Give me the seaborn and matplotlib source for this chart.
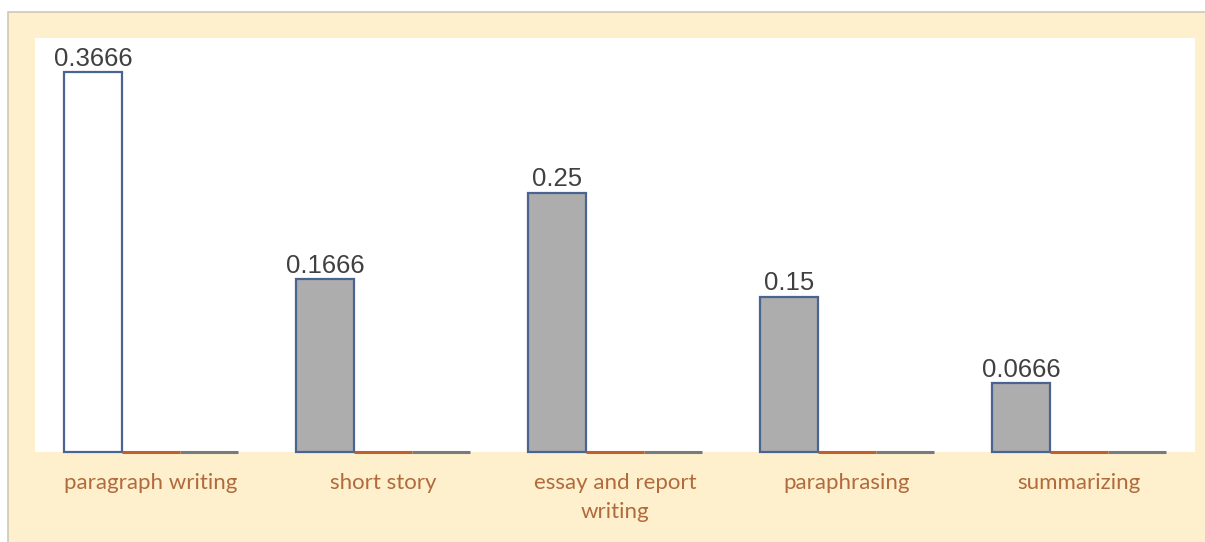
import matplotlib
matplotlib.use("Agg")
import matplotlib.pyplot as plt
from matplotlib.patches import Rectangle
import pandas as pd
import seaborn as sns

# Data
CATEGORIES = ['paragraph writing', 'short story', 'essay and report\nwriting',
              'paraphrasing', 'summarizing']
SERIES_1 = [0.3666, 0.1666, 0.25, 0.15, 0.0666]
SERIES_2 = [0, 0, 0, 0, 0]
SERIES_3 = [0, 0, 0, 0, 0]
SERIES_NAMES = ['Series 1', 'Series 2', 'Series 3']
VALUE_LABELS = ['0.3666', '0.1666', '0.25', '0.15', '0.0666']

# Colours
PANEL_BG = '#fef0cd'
BAR_FILL = '#adadad'
BAR_EDGE = '#4a6491'
SERIES_COLORS = [BAR_FILL, '#c0602a', '#7a7a7a']
TICK_COLOR = '#b06a3b'
VALUE_COLOR = '#404040'


def build_frame():
    """
    Builds a long-format frame for seaborn from the named lists.
    """
    rows = []
    for name, values in zip(SERIES_NAMES, [SERIES_1, SERIES_2, SERIES_3]):
        for cat, val in zip(CATEGORIES, values):
            rows.append([cat, name, val])
    return pd.DataFrame(rows, columns=['Category', 'Series', 'Value'])


def main():
    df = build_frame()

    sns.set_style('white')
    fig = plt.figure(figsize=(12.05, 5.42), dpi=100, facecolor='white')

    # beige chart panel behind the plot area (right/bottom edges run off the canvas)
    fig.patches.append(Rectangle((8 / 1205, -0.1), 1.2, 1.1 - 12 / 542,
                                 transform=fig.transFigure, facecolor=PANEL_BG,
                                 edgecolor='#cfc8b8', linewidth=1.2, zorder=-5))

    ax = fig.add_axes([35 / 1205, 90 / 542, 1160 / 1205, 414 / 542])
    ax.set_facecolor('white')

    sns.barplot(data=df, x='Category', y='Value', hue='Series',
                order=CATEGORIES, hue_order=SERIES_NAMES,
                palette=SERIES_COLORS, width=0.75, gap=0, legend=False,
                saturation=1, ax=ax)

    # style the bars
    for i, container in enumerate(ax.containers):
        for j, patch in enumerate(container.patches):
            patch.set_clip_on(False)
            if i == 0:
                patch.set_edgecolor(BAR_EDGE)
                patch.set_linewidth(1.6)
                if j == 0:
                    patch.set_facecolor('white')
            else:
                patch.set_edgecolor(SERIES_COLORS[i])
                patch.set_linewidth(2.2)
                patch.set_zorder(3)

    ax.bar_label(ax.containers[0], labels=VALUE_LABELS, padding=1,
                 fontsize=18.5, color=VALUE_COLOR, family='Liberation Sans')

    ax.set_xlim(-0.5, 4.5)
    ax.set_ylim(0, 0.3994)
    ax.set_xlabel('')
    ax.set_ylabel('')
    ax.set_yticks([])
    for spine in ax.spines.values():
        spine.set_visible(False)

    ax.tick_params(axis='x', length=0, pad=15)
    for lbl in ax.get_xticklabels():
        lbl.set_fontfamily('Lato')
        lbl.set_fontsize(16)
        lbl.set_color(TICK_COLOR)
        lbl.set_linespacing(1.6)

    fig.savefig('out.png', dpi=100, facecolor='white')


if __name__ == '__main__':
    main()
